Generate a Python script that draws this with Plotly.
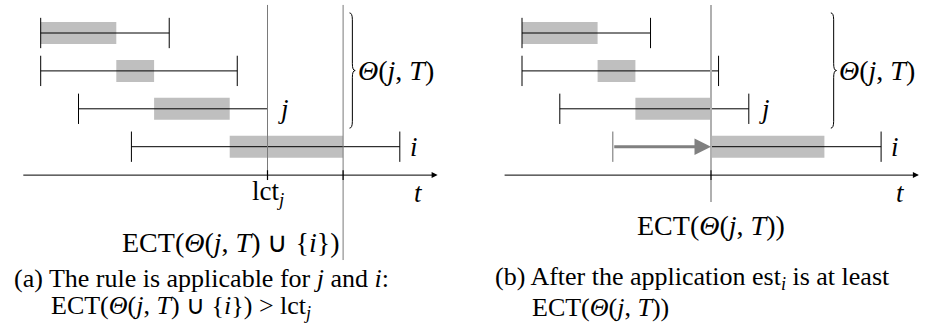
import plotly.graph_objects as go

# ---------------- data (time units / row indices) ----------------
rows = [4, 3, 2, 1]                     # row of each task (top to bottom)
left_est = [0, 0, 1, 2.4]
left_lct = [3.4, 5.2, 6, 9.5]
left_box_start = [0, 2, 3, 5]
left_box_end = [2, 3, 5, 8]
left_lct_j = 6
left_ect = 8

right_est = [0, 0, 1, 5]
right_lct = [3.4, 5.2, 6, 9.5]
right_box_start = [0, 2, 3, 5]
right_box_end = [2, 3, 5, 8]
right_old_est_i = 2.4
right_ect = 5

axis_start, axis_end = -0.5, 10.5
axis_row = 0.25
task_labels = ["", "", "<i>j</i>", "<i>i</i>"]

FONT = "Liberation Serif"
FS_MATH = 27
FS_CAP = 26
BLACK = "#000000"
GRAY_BOX = "#bfbfbf"

fig = go.Figure()
shapes = []
annotations = []

BOX_H = 0.29
BAR_H = 0.4
TICK_H = 0.13
TOP = 4.74


def panel(xr, yr, est, lct, bs, be):
    for k in range(len(rows)):
        r = rows[k]
        shapes.append(dict(type="rect", xref=xr, yref=yr, x0=bs[k], x1=be[k],
                           y0=r - BOX_H, y1=r + BOX_H, fillcolor=GRAY_BOX,
                           line=dict(width=0), layer="below"))
        fig.add_trace(go.Scatter(x=[est[k], lct[k]], y=[r, r], mode="lines",
                                 line=dict(color=BLACK, width=1), xaxis=xr, yaxis=yr,
                                 showlegend=False, hoverinfo="skip"))
        for xv in (est[k], lct[k]):
            shapes.append(dict(type="line", xref=xr, yref=yr, x0=xv, x1=xv,
                               y0=r - BAR_H, y1=r + BAR_H,
                               line=dict(color=BLACK, width=1)))
        if task_labels[k]:
            annotations.append(dict(xref=xr, yref=yr, x=lct[k] + 0.22, y=r,
                                    text=task_labels[k], showarrow=False,
                                    xanchor="left", yanchor="middle",
                                    font=dict(family=FONT, size=FS_MATH, color=BLACK)))
    # time axis with arrow
    annotations.append(dict(xref=xr, yref=yr, x=axis_end, y=axis_row,
                            ax=axis_start, ay=axis_row, axref=xr, ayref=yr,
                            text="", showarrow=True, arrowhead=2, arrowsize=1.2,
                            arrowwidth=1, arrowcolor=BLACK, standoff=0))
    annotations.append(dict(xref=xr, yref=yr, x=10, y=axis_row - 0.47,
                            text="<i>t</i>", showarrow=False, xanchor="center",
                            yanchor="middle",
                            font=dict(family=FONT, size=FS_MATH, color=BLACK)))
    # brace for Θ(j,T)
    x0 = 8.17
    w = 0.15
    xm = x0 + w / 2
    xt = x0 + w
    ytop = rows[0] + 0.53
    ybot = rows[2] - 0.51
    ymid = (ytop + ybot) / 2
    d = 0.18
    path = (f"M {x0},{ytop} Q {xm},{ytop} {xm},{ytop - d} L {xm},{ymid + d} "
            f"Q {xm},{ymid} {xt},{ymid} Q {xm},{ymid} {xm},{ymid - d} "
            f"L {xm},{ybot + d} Q {xm},{ybot} {x0},{ybot}")
    shapes.append(dict(type="path", xref=xr, yref=yr, path=path,
                       line=dict(color=BLACK, width=1)))
    annotations.append(dict(xref=xr, yref=yr, x=xt + 0.02, y=ymid,
                            text="<i>Θ</i>(<i>j</i>, <i>T</i>)", showarrow=False,
                            xanchor="left", yanchor="middle",
                            font=dict(family=FONT, size=FS_MATH + 1, color=BLACK)))


panel("x", "y", left_est, left_lct, left_box_start, left_box_end)
panel("x2", "y", right_est, right_lct, right_box_start, right_box_end)

# ----- left extras -----
shapes.append(dict(type="line", xref="x", yref="y", x0=left_lct_j, x1=left_lct_j,
                   y0=TOP, y1=axis_row - TICK_H, line=dict(color="#7a7a7a", width=1)))
shapes.append(dict(type="line", xref="x", yref="y", x0=left_ect, x1=left_ect,
                   y0=TOP, y1=-1.99, line=dict(color="#7a7a7a", width=1)))
for xv in (left_lct_j, left_ect):
    shapes.append(dict(type="line", xref="x", yref="y", x0=xv, x1=xv,
                       y0=axis_row - TICK_H, y1=axis_row + TICK_H,
                       line=dict(color=BLACK, width=1.2)))
annotations.append(dict(xref="x", yref="y", x=left_lct_j, y=axis_row - 0.47,
                        text="lct<sub><i>j</i></sub>", showarrow=False,
                        xanchor="center", yanchor="middle",
                        font=dict(family=FONT, size=FS_MATH, color=BLACK)))
annotations.append(dict(xref="x", yref="y", x=left_ect - 0.06, y=-1.52,
                        text="ECT(<i>Θ</i>(<i>j</i>, <i>T</i>) ∪ {<i>i</i>})",
                        showarrow=False, xanchor="right", yanchor="middle",
                        font=dict(family=FONT, size=FS_MATH + 1, color=BLACK)))

# ----- right extras -----
shapes.append(dict(type="line", xref="x2", yref="y", x0=right_ect, x1=right_ect,
                   y0=TOP, y1=-0.46, line=dict(color="#b0b0b0", width=2)))
shapes.append(dict(type="line", xref="x2", yref="y", x0=right_ect, x1=right_ect,
                   y0=axis_row - TICK_H, y1=axis_row + TICK_H,
                   line=dict(color="#555555", width=2)))
shapes.append(dict(type="line", xref="x2", yref="y", x0=right_old_est_i, x1=right_old_est_i,
                   y0=rows[3] - BAR_H, y1=rows[3] + BAR_H,
                   line=dict(color="#9a9a9a", width=1.5)))
annotations.append(dict(xref="x2", yref="y", x=right_ect, y=rows[3],
                        ax=right_old_est_i, ay=rows[3], axref="x2", ayref="y",
                        text="", showarrow=True, arrowhead=2, arrowsize=1.1,
                        arrowwidth=3, arrowcolor="#808080", standoff=0))
annotations.append(dict(xref="x2", yref="y", x=right_ect, y=-1.07,
                        text="ECT(<i>Θ</i>(<i>j</i>, <i>T</i>))",
                        showarrow=False, xanchor="center", yanchor="middle",
                        font=dict(family=FONT, size=FS_MATH + 1, color=BLACK)))

# ----- captions -----
cap_font = dict(family=FONT, size=FS_CAP, color=BLACK)
W, H = 935, 332
annotations += [
    dict(xref="paper", yref="paper", x=12 / W, y=1 - 278 / H,
         text="(a) The rule is applicable for <i>j</i> and <i>i</i>:",
         showarrow=False, xanchor="left", yanchor="middle", font=cap_font),
    dict(xref="paper", yref="paper", x=49 / W, y=1 - 307 / H,
         text="ECT(<i>Θ</i>(<i>j</i>, <i>T</i>) ∪ {<i>i</i>}) &gt; lct<sub><i>j</i></sub>",
         showarrow=False, xanchor="left", yanchor="middle", font=cap_font),
    dict(xref="paper", yref="paper", x=493 / W, y=1 - 278 / H,
         text="(b) After the application est<sub><i>i</i></sub> is at least",
         showarrow=False, xanchor="left", yanchor="middle", font=cap_font),
    dict(xref="paper", yref="paper", x=530 / W, y=1 - 307 / H,
         text="ECT(<i>Θ</i>(<i>j</i>, <i>T</i>))",
         showarrow=False, xanchor="left", yanchor="middle", font=cap_font),
]

# axes: pixel = origin + 37.8 * t
U = 37.8
lx0 = -40.7 / U
rx0 = -(522 - W / 2) / U
span = (W / 2) / U
y_top = 184.6 / 37.9
y_bot = (184.6 - H) / 37.9

ax_common = dict(visible=False, showgrid=False, zeroline=False, fixedrange=True)
fig.update_layout(
    width=W, height=H, margin=dict(l=0, r=0, t=0, b=0),
    paper_bgcolor="white", plot_bgcolor="white",
    xaxis=dict(domain=[0, 0.5], range=[lx0, lx0 + span], **ax_common),
    xaxis2=dict(domain=[0.5, 1], range=[rx0, rx0 + span], **ax_common),
    yaxis=dict(domain=[0, 1], range=[y_bot, y_top], **ax_common),
    shapes=shapes, annotations=annotations, showlegend=False,
)

fig.write_html("out.html")
